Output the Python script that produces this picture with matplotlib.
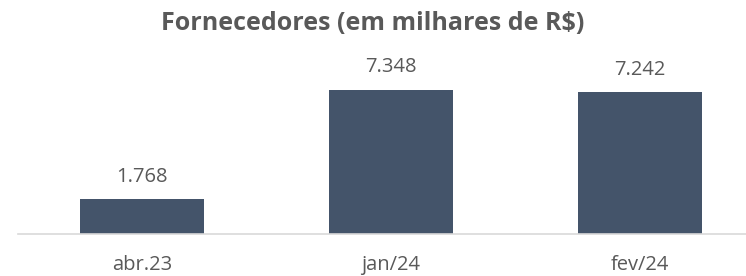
import matplotlib
matplotlib.use("Agg")
import matplotlib.pyplot as plt

categories = ["abr.23", "jan/24", "fev/24"]
values = [1768, 7348, 7242]
labels = ["1.768", "7.348", "7.242"]

W, H = 746, 276
fig = plt.figure(figsize=(W / 100, H / 100), dpi=100)
plt.rcParams['font.family'] = ['Open Sans', 'DejaVu Sans']

left = 17.5 / W
width = 747 / W
bottom = (H - 234) / H
top_px = 90
ymax = 7348 * (234 - 0) / (234 - top_px)
ax = fig.add_axes([left, bottom, width, 234 / H])
x = range(len(categories))
ax.bar(x, values, width=0.5, color="#44546A")
ax.set_xlim(-0.5, 2.5)
ax.set_ylim(0, ymax)
for s in ["top", "right", "left"]:
    ax.spines[s].set_visible(False)
ax.spines["bottom"].set_color("#D9D9D9")
ax.spines["bottom"].set_linewidth(1.2)
ax.set_yticks([])
ax.set_xticks(list(x))
ax.set_xticklabels(categories, fontsize=14.5, color="#595959")
ax.tick_params(axis="x", length=0, pad=15)
for xi, v, lab in zip(x, values, labels):
    ax.annotate(lab, (xi, v), xytext=(0, 9), textcoords="offset points",
                ha="center", va="bottom", fontsize=14.5, color="#595959")
fig.text(373 / W, 1 - 24 / H, "Fornecedores (em milhares de R$)", ha="center", va="center",
         fontsize=18, fontweight="bold", color="#595959")
fig.savefig("out.png", dpi=100)
